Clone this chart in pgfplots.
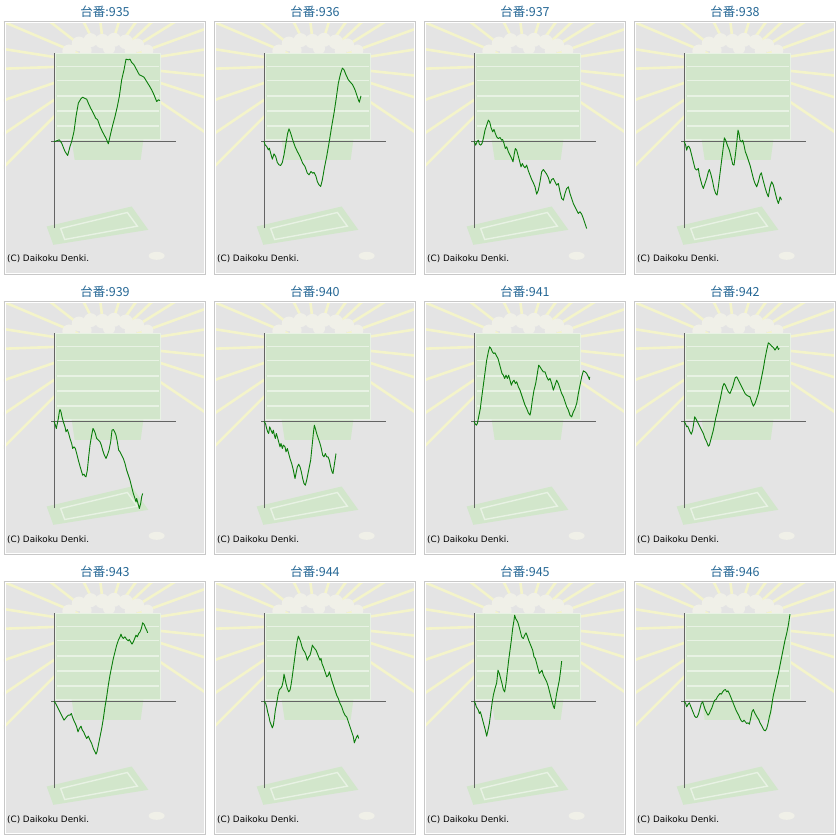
\documentclass[border=0pt]{standalone}
\usepackage{pgfplots}
\usepackage{pgfplotstable}
\pgfplotsset{compat=1.18}
\usepackage{fontspec}
\newfontfamily\cjk{Noto Sans CJK JP}
\newfontfamily\dejavu{DejaVu Sans}
\definecolor{panelbg}{RGB}{228,228,228}
\definecolor{bordergray}{RGB}{200,200,200}
\definecolor{titleblue}{RGB}{38,104,150}
\definecolor{linegreen}{RGB}{10,125,10}
\definecolor{axisgray}{RGB}{100,100,100}
\definecolor{raycol}{RGB}{244,244,202}
\definecolor{traygreen}{RGB}{210,230,203}
\definecolor{trayedge}{RGB}{232,242,228}
\definecolor{popcol}{RGB}{240,240,232}

\pgfplotstableread{
x y
0 0
3 -1
10 2
16 4
23 -6
33 -31
41 -43
48 -16
53 -1
60 29
66 74
73 114
80 126
86 132
93 128
98 126
103 114
110 99
118 84
125 69
131 64
138 44
145 29
153 14
158 4
163 -8
168 14
175 44
183 74
190 104
196 134
203 184
210 214
216 246
223 244
228 246
233 236
240 229
248 214
256 199
263 196
270 192
278 179
286 166
293 154
300 139
308 119
313 124
318 122
}\tA
\pgfplotstableread{
x y
0 0
3 -11
8 -16
13 -26
16 -21
20 -36
25 -54
30 -38
35 -46
40 -64
45 -71
50 -73
55 -64
60 -41
66 -6
71 24
75 37
80 24
86 4
93 -16
100 -31
108 -46
116 -66
123 -76
130 -96
135 -101
141 -91
146 -96
150 -94
156 -106
160 -121
165 -131
170 -136
175 -116
181 -81
188 -46
195 -6
203 44
210 84
216 124
223 174
230 204
235 219
240 214
246 199
253 184
260 176
266 169
273 154
278 139
283 124
286 117
289 129
291 136
}\tB
\pgfplotstableread{
x y
0 0
5 -12
9 -2
13 3
16 -9
20 -12
24 -7
28 8
33 33
38 48
43 63
47 58
51 41
56 28
60 35
64 23
68 13
73 8
78 11
83 3
86 5
90 -7
94 -22
98 -17
103 -32
108 -42
113 -52
117 -62
121 -37
124 -22
128 -27
132 -42
136 -57
141 -77
145 -67
149 -75
153 -80
158 -72
163 -89
168 -102
173 -115
178 -125
183 -137
188 -159
193 -147
198 -122
203 -92
208 -85
213 -92
218 -99
223 -109
228 -127
233 -115
238 -112
243 -122
248 -132
253 -127
258 -152
263 -172
268 -177
273 -157
278 -142
283 -137
288 -157
293 -172
298 -187
303 -197
308 -207
313 -217
318 -212
323 -219
328 -232
333 -247
338 -262
}\tC
\pgfplotstableread{
x y
0 0
5 -12
8 -27
11 -17
14 -15
18 -22
23 -42
28 -62
33 -82
38 -87
43 -82
46 -102
50 -117
54 -132
58 -142
63 -127
68 -112
73 -92
76 -85
80 -97
85 -117
90 -142
95 -157
99 -162
103 -137
108 -97
113 -57
118 -17
121 10
125 3
130 -12
136 -27
141 -47
146 -69
150 -72
154 -42
158 -7
162 33
165 23
168 3
173 -2
176 3
180 -12
184 -32
188 -42
193 -57
198 -72
203 -92
208 -112
213 -127
218 -137
223 -122
228 -102
232 -95
236 -112
240 -127
244 -142
248 -155
253 -167
258 -137
263 -122
268 -132
273 -152
278 -172
283 -187
286 -177
288 -167
291 -172
292 -177
}\tD
\pgfplotstableread{
x y
0 0
4 -12
7 -22
10 -7
13 8
16 28
18 35
21 28
24 13
28 -2
33 -17
36 -32
40 -25
44 -37
48 -52
53 -67
56 -82
60 -77
64 -82
68 -97
73 -117
78 -135
83 -152
86 -162
90 -159
93 -165
96 -167
100 -147
104 -107
108 -72
113 -42
117 -22
120 -27
124 -37
128 -52
133 -57
138 -62
142 -72
146 -87
151 -102
156 -112
160 -102
165 -87
170 -62
174 -27
178 -25
182 -32
186 -42
190 -62
194 -87
198 -92
203 -102
208 -112
213 -127
218 -147
223 -162
228 -177
233 -197
238 -217
243 -232
246 -242
248 -232
252 -247
256 -262
260 -247
263 -227
266 -217
}\tE
\pgfplotstableread{
x y
0 0
5 -9
8 -22
11 -32
14 -37
17 -17
21 -27
25 -37
28 -27
31 -42
34 -52
37 -37
40 -47
44 -62
48 -77
51 -67
55 -82
58 -72
63 -77
66 -92
70 -82
74 -97
78 -112
83 -127
88 -147
93 -172
96 -157
100 -137
104 -129
108 -137
112 -152
116 -172
120 -187
124 -192
128 -177
132 -157
136 -137
140 -117
144 -77
148 -37
151 -12
154 -22
158 -37
163 -52
168 -67
172 -82
176 -102
180 -107
184 -97
188 -107
192 -107
196 -117
200 -137
204 -152
207 -157
210 -137
213 -117
216 -97
}\tF
\pgfplotstableread{
x y
0 0
4 -9
7 -12
10 -7
13 8
16 23
19 38
22 63
26 93
30 123
34 153
38 183
43 208
47 223
51 218
55 208
59 203
63 205
68 195
72 188
76 173
80 158
84 143
88 138
92 128
96 138
100 128
104 138
108 123
112 108
116 118
120 123
124 113
128 118
133 103
138 93
143 78
148 63
153 48
158 38
163 25
168 18
171 33
175 63
180 93
185 113
190 143
194 168
198 163
203 155
208 148
213 148
218 133
223 123
228 128
233 113
238 93
243 108
248 123
253 113
258 98
263 83
268 73
273 58
278 43
283 33
288 18
293 13
298 28
303 38
308 53
313 83
318 108
323 133
328 151
333 148
338 143
343 133
346 125
347 133
}\tG
\pgfplotstableread{
x y
0 0
5 -9
8 -17
11 -15
14 -22
18 -32
22 -39
26 -27
29 -7
32 13
35 8
38 3
43 -7
48 -17
53 -27
58 -37
63 -52
68 -62
73 -75
76 -72
80 -57
84 -42
88 -27
92 -7
96 13
100 28
104 48
108 63
112 83
116 103
120 113
124 108
128 98
133 88
138 83
142 93
146 103
150 118
154 131
158 133
163 123
168 113
173 103
178 93
183 83
188 78
193 75
198 73
203 58
208 45
213 53
218 68
223 83
228 108
233 133
238 158
243 188
248 213
253 235
258 231
263 225
268 221
273 213
276 218
280 225
283 215
286 218
}\tH
\pgfplotstableread{
x y
0 0
5 -7
10 -17
15 -27
20 -37
25 -47
30 -57
34 -52
38 -47
43 -42
48 -42
52 -37
56 -49
60 -59
64 -67
68 -77
72 -92
76 -82
81 -75
85 -87
89 -92
93 -102
98 -112
103 -105
108 -117
113 -127
118 -142
123 -152
126 -159
129 -152
133 -132
138 -107
143 -82
148 -52
153 -17
158 13
163 48
168 78
173 103
178 128
183 148
188 168
193 183
198 193
201 201
204 193
208 188
213 193
218 185
223 181
226 185
230 178
234 171
238 178
242 188
246 198
250 193
254 203
258 208
262 218
266 235
270 231
274 221
278 213
281 205
}\tI
\pgfplotstableread{
x y
0 0
5 -7
8 -17
11 -32
15 -47
18 -62
22 -72
25 -80
28 -72
31 -52
34 -27
38 -7
42 18
46 35
50 38
54 45
58 63
60 81
63 68
66 53
70 38
74 28
78 33
81 48
84 68
88 98
92 128
96 158
100 183
103 195
106 188
110 178
114 163
118 153
122 148
126 138
130 123
134 133
138 138
142 153
145 168
148 163
152 158
156 153
160 143
164 133
168 123
171 128
174 113
178 103
183 88
188 73
193 78
196 88
199 78
203 63
208 48
213 33
218 18
223 8
228 -7
233 -17
238 -32
243 -42
248 -47
253 -62
258 -77
263 -92
268 -107
271 -125
274 -117
278 -107
281 -102
284 -112
}\tJ
\pgfplotstableread{
x y
0 0
4 -7
7 -17
10 -22
13 -27
16 -37
19 -32
22 -42
26 -57
30 -72
34 -87
38 -105
42 -87
46 -67
50 -37
54 -7
58 18
63 38
68 55
72 93
76 83
80 68
84 53
88 35
92 28
96 53
100 88
104 123
108 153
112 183
116 218
120 243
122 258
125 248
128 243
131 238
134 228
138 213
143 193
148 188
152 198
156 205
160 195
164 183
168 173
172 163
176 153
180 133
184 128
188 113
192 98
196 83
200 88
204 93
208 78
213 68
218 58
223 43
228 23
233 3
238 -15
241 -22
244 -2
248 23
252 43
256 63
260 93
263 120
}\tK
\pgfplotstableread{
x y
0 0
5 -7
8 -17
12 -10
16 -5
20 -15
24 -25
28 -35
32 -45
36 -49
40 -47
44 -37
48 -22
52 -7
56 -2
60 -15
64 -27
68 -35
72 -42
76 -37
80 -27
84 -19
88 -7
92 3
96 5
100 13
104 18
108 23
112 21
116 28
120 33
124 35
128 28
132 31
136 23
140 13
144 3
148 -7
152 -17
156 -27
160 -35
164 -42
168 -52
172 -59
176 -62
180 -57
184 -62
188 -67
192 -65
196 -69
200 -52
204 -32
208 -25
212 -35
216 -42
220 -49
224 -55
228 -65
232 -72
236 -80
240 -87
244 -89
248 -82
252 -67
256 -47
260 -32
264 -7
268 18
273 38
278 63
283 83
288 108
293 133
298 158
303 183
308 203
313 228
316 248
318 261
}\tL

% background decoration in data units
\newcommand{\deco}{%
  \fill[panelbg] (rel axis cs:0,0) rectangle (rel axis cs:1,1);
  \foreach \a in {-34,-18,-6,9,20,32,43,55,73,97,117,142,157,171,182,199,214,225}{
    \edef\tmp{\noexpand\draw[raycol, line width=2.6pt] (axis cs:155,228) ++(\a:30pt) -- ++(\a:170pt);}\tmp
  }
  % popcorn
  \fill[popcol] (axis cs:45,270) circle[radius=6.7pt];
  \fill[popcol] (axis cs:75,292) circle[radius=7.3pt];
  \fill[popcol] (axis cs:110,303) circle[radius=7pt];
  \fill[popcol] (axis cs:145,300) circle[radius=7.3pt];
  \fill[popcol] (axis cs:180,304) circle[radius=7pt];
  \fill[popcol] (axis cs:215,298) circle[radius=7.3pt];
  \fill[popcol] (axis cs:250,288) circle[radius=6.7pt];
  \fill[popcol] (axis cs:280,272) circle[radius=6pt];
  \fill[popcol] (axis cs:95,272) circle[radius=6pt];
  \fill[popcol] (axis cs:165,278) circle[radius=6pt];
  \fill[popcol] (axis cs:230,272) circle[radius=6pt];
  % tray stack
  \fill[traygreen] (axis cs:3,4) rectangle (axis cs:318,262);
  \draw[trayedge, line width=1.6pt] (axis cs:10,45) -- (axis cs:314,45);
  \draw[trayedge, line width=1.6pt] (axis cs:10,90) -- (axis cs:314,90);
  \draw[trayedge, line width=1.6pt] (axis cs:10,135) -- (axis cs:314,135);
  \draw[trayedge, line width=1.6pt] (axis cs:10,182) -- (axis cs:314,182);
  \draw[trayedge, line width=1.6pt] (axis cs:10,224) -- (axis cs:314,224);
  \draw[trayedge, line width=1pt] (axis cs:3,4) rectangle (axis cs:318,262);
  \fill[traygreen] (axis cs:53,4) -- (axis cs:268,4) -- (axis cs:260,-56) -- (axis cs:62,-56) -- cycle;
  % bottom tray
  \fill[traygreen] (axis cs:-22,-256) -- (axis cs:233,-196) -- (axis cs:283,-266) -- (axis cs:-2,-311) -- cycle;
  \draw[trayedge, line width=1.4pt] (axis cs:20,-262) -- (axis cs:220,-214) -- (axis cs:250,-255) -- (axis cs:32,-295) -- cycle;
  % coin
  \fill[popcol] (axis cs:308,-344) ellipse[x radius=8pt, y radius=4pt];
  % axes
  \draw[axisgray, line width=1pt] (axis cs:0,-261) -- (axis cs:0,264);
  \draw[axisgray, line width=1pt] (axis cs:-9,0) -- (axis cs:365,0);
}

\newcommand{\panel}[4]{%
  \begin{axis}[name=ax, at={(#1pt+4pt,839pt-#2pt-274.5pt)}, anchor=south west,
    scale only axis, width=201.67pt, height=253pt,
    xmin=-150, xmax=455, ymin=-400, ymax=359,
    axis line style={draw=none}, ticks=none]
    \deco
    \addplot[linegreen, line width=0.9pt, line join=round] table[x=x,y=y] {#4};
  \end{axis}
  \draw[bordergray, line width=1pt] (ax.south west) rectangle (ax.north east);
  \draw[white, line width=0.8pt] ([shift={(1.2pt,1.2pt)}]ax.south west) rectangle ([shift={(-1.2pt,-1.2pt)}]ax.north east);
  \node[font=\cjk\fontsize{12.5}{14}\selectfont, text=titleblue, anchor=base, inner sep=0pt] at (#1pt+105pt, 839pt-#2pt-16.5pt) {台番:#3};
  \node[font=\dejavu\fontsize{8.8}{10}\selectfont, text=black, anchor=base west, inner sep=0pt] at (#1pt+7pt, 839pt-#2pt-262pt) {(C) Daikoku Denki.};
}

\begin{document}
\begin{tikzpicture}
\useasboundingbox[fill=white] (0,0) rectangle (840pt,839pt);
\panel{0}{0}{935}{\tA}
\panel{210}{0}{936}{\tB}
\panel{420}{0}{937}{\tC}
\panel{630}{0}{938}{\tD}
\panel{0}{280}{939}{\tE}
\panel{210}{280}{940}{\tF}
\panel{420}{280}{941}{\tG}
\panel{630}{280}{942}{\tH}
\panel{0}{560}{943}{\tI}
\panel{210}{560}{944}{\tJ}
\panel{420}{560}{945}{\tK}
\panel{630}{560}{946}{\tL}
\end{tikzpicture}
\end{document}
